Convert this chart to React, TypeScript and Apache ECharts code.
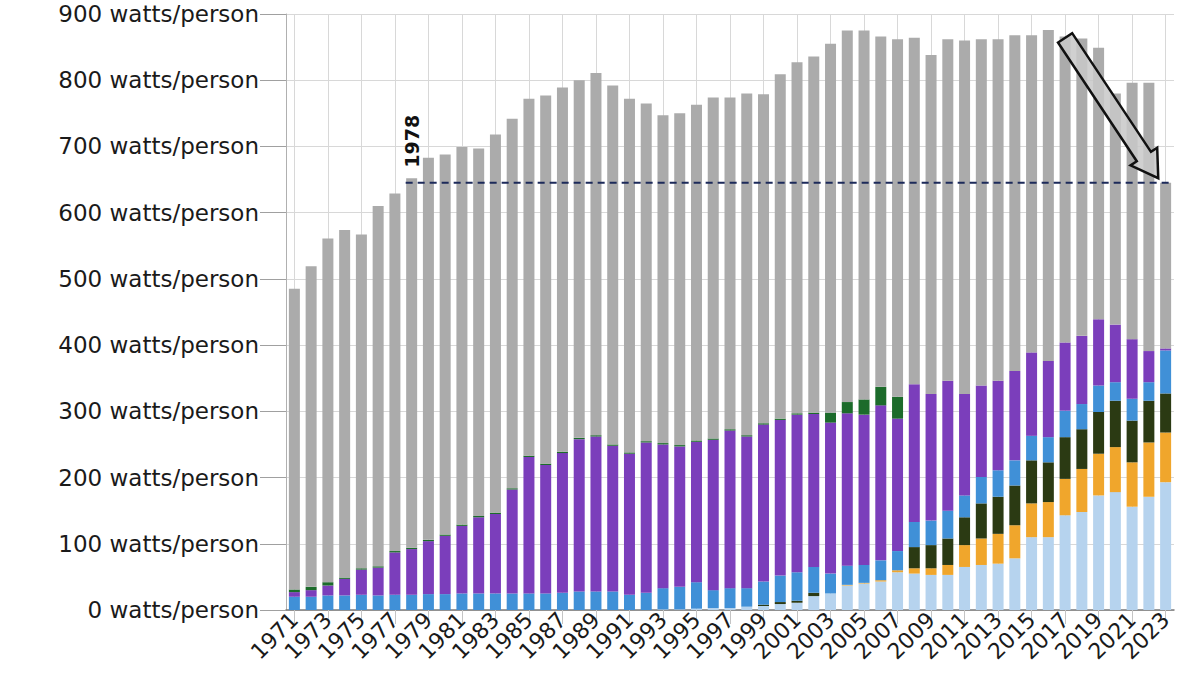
import React, { useEffect, useRef } from "react";
import * as echarts from "echarts";

const years: string[] = [];
for (let y = 1971; y <= 2023; y++) years.push(String(y));

const yTicks = [0, 100, 200, 300, 400, 500, 600, 700, 800, 900];
const unitLabel = "watts/person";

// stacked layers, bottom to top (watts/person)
const wind = [
  0, 0, 0, 0, 0, 0, 0, 0, 0, 0, 0, 0, 0, 0, 0, 0, 0, 0, 0,
  0, 0, 0, 1, 1, 2, 3, 3, 5, 6, 9, 11, 21, 25, 37, 40, 43, 57,
  55, 53, 53, 65, 68, 70, 78, 110, 110, 143, 148, 173, 178, 156, 171, 193,
];
const solar = [
  0, 0, 0, 0, 0, 0, 0, 0, 0, 0, 0, 0, 0, 0, 0, 0, 0, 0, 0,
  0, 0, 0, 0, 0, 0, 0, 0, 0, 0, 0, 0, 0, 0, 1, 1, 2, 3,
  8, 10, 15, 33, 40, 45, 50, 51, 53, 55, 65, 63, 68, 67, 82, 75,
];
const biomass = [
  0, 0, 0, 0, 0, 0, 0, 0, 0, 0, 0, 0, 0, 0, 0, 0, 0, 0, 0,
  0, 0, 0, 0, 0, 0, 0, 0, 0, 2, 3, 3, 5, 0, 0, 0, 0, 0,
  32, 35, 40, 42, 53, 56, 60, 65, 60, 63, 60, 63, 70, 63, 63, 59,
];
const hydro = [
  20, 20, 22, 22, 23, 22, 23, 23, 24, 24, 25, 25, 25, 25, 25, 25, 26, 28, 28,
  28, 23, 26, 32, 34, 40, 27, 30, 28, 35, 40, 43, 39, 30, 29, 27, 30, 29,
  38, 37, 42, 33, 40, 40, 38, 37, 38, 40, 38, 40, 28, 33, 28, 65,
];
const nuclear = [
  7, 10, 15, 25, 38, 42, 64, 69, 80, 88, 102, 115, 120, 157, 206, 194, 211, 230, 234,
  220, 213, 227, 217, 212, 212, 227, 238, 229, 237, 235, 238, 231, 228, 230, 227, 234, 200,
  208, 191, 196, 153, 138, 135, 135, 126, 115, 103, 103, 100, 87, 90, 47, 3,
];
const other = [
  4, 5, 5, 2, 2, 2, 2, 2, 2, 2, 2, 2, 2, 2, 2, 2, 2, 2, 2,
  2, 2, 2, 2, 2, 2, 2, 2, 2, 2, 2, 2, 2, 15, 17, 23, 28, 33,
  0, 0, 0, 0, 0, 0, 0, 0, 0, 0, 0, 0, 0, 0, 0, 0,
];
const fossil = [
  454, 484, 519, 525, 504, 544, 540, 558, 577, 574, 570, 555, 571, 558, 539, 556, 550, 540, 547,
  542, 534, 510, 495, 501, 507, 515, 501, 516, 497, 520, 530, 538, 557, 561, 557, 529, 540,
  523, 512, 516, 534, 523, 516, 507, 479, 500, 462, 449, 410, 349, 387, 405, 250,
];

const refYear = "1978";
const refLevel = 645;
const arrowFrom: [string, number] = ["2017", 864];
const arrowTo: [string, string, number] = ["2022", "2023", 652];

const layers = [
  { name: "Wind", data: wind, color: "#b6d3ee" },
  { name: "Solar", data: solar, color: "#f0a62c" },
  { name: "Biomass", data: biomass, color: "#2b3a13" },
  { name: "Hydro", data: hydro, color: "#4090d7" },
  { name: "Nuclear", data: nuclear, color: "#7b3ebb" },
  { name: "Other", data: other, color: "#1c6b2b" },
  { name: "Fossil", data: fossil, color: "#ababab" },
];

export default function App() {
  const ref = useRef<HTMLDivElement>(null);
  useEffect(() => {
    if (!ref.current) return;
    const chart = echarts.init(ref.current, null, { renderer: "svg" });
    chart.setOption({
      animation: false,
      backgroundColor: "#ffffff",
      grid: { left: 286, right: 26, top: 14, bottom: 65 },
      xAxis: {
        type: "category",
        data: years,
        axisLine: { lineStyle: { color: "#7a7a7a", width: 1.5 } },
        axisTick: { show: true, alignWithLabel: true, interval: 1, length: 14, lineStyle: { color: "#c4c4c4" } },
        axisLabel: {
          interval: 1,
          rotate: 45,
          fontSize: 22,
          fontFamily: "DejaVu Sans",
          color: "#1a1a1a",
          margin: 6,
        },
        splitLine: { show: true, alignWithLabel: true, interval: 1, lineStyle: { color: "#d8d8d8" } },
      },
      yAxis: {
        type: "value",
        min: yTicks[0],
        max: yTicks[yTicks.length - 1],
        interval: 100,
        axisLine: { show: true, lineStyle: { color: "#b0b0b0" } },
        axisTick: { show: true, length: 26, lineStyle: { color: "#a0a0a0" } },
        axisLabel: {
          formatter: (v: number) => `${v} ${unitLabel}`,
          fontSize: 23,
          fontFamily: "DejaVu Sans",
          color: "#1a1a1a",
          margin: 27,
        },
        splitLine: { show: true, lineStyle: { color: "#d8d8d8" } },
      },
      series: layers.map((l) => ({
        name: l.name,
        type: "bar",
        stack: "total",
        barWidth: 11,
        data: l.data,
        itemStyle: { color: l.color },
      })),
    });

    const p0 = chart.convertToPixel({ gridIndex: 0 }, [refYear, refLevel]) as number[];
    const p1 = chart.convertToPixel({ gridIndex: 0 }, [years[years.length - 1], refLevel]) as number[];
    const pLabel = chart.convertToPixel({ gridIndex: 0 }, [refYear, 668]) as number[];
    const a0 = chart.convertToPixel({ gridIndex: 0 }, arrowFrom) as number[];
    const ta = chart.convertToPixel({ gridIndex: 0 }, [arrowTo[0], arrowTo[2]]) as number[];
    const tb = chart.convertToPixel({ gridIndex: 0 }, [arrowTo[1], arrowTo[2]]) as number[];
    const tip = [(ta[0] + tb[0]) / 2 + 1, ta[1]];

    const dx = tip[0] - a0[0];
    const dy = tip[1] - a0[1];
    const len = Math.sqrt(dx * dx + dy * dy);
    const ux = dx / len, uy = dy / len;
    const nx = -uy, ny = ux;
    const sw = 8.5, hw = 16, hl = 26;
    const bx = tip[0] - hl * ux, by = tip[1] - hl * uy;
    const pts = [
      [a0[0] + sw * nx, a0[1] + sw * ny],
      [bx + sw * nx, by + sw * ny],
      [bx + hw * nx, by + hw * ny],
      [tip[0], tip[1]],
      [bx - hw * nx, by - hw * ny],
      [bx - sw * nx, by - sw * ny],
      [a0[0] - sw * nx, a0[1] - sw * ny],
    ];

    chart.setOption({
      graphic: [
        {
          type: "line",
          silent: true,
          z: 100,
          shape: { x1: p0[0] - 6, y1: p0[1], x2: p1[0] + 6, y2: p1[1] },
          style: { stroke: "#1c2a5a", lineWidth: 2, lineDash: [7, 5] },
        },
        {
          type: "text",
          silent: true,
          z: 100,
          x: pLabel[0],
          y: pLabel[1],
          rotation: Math.PI / 2,
          style: {
            text: refYear,
            fill: "#111111",
            font: "bold 19px 'DejaVu Sans'",
            align: "left",
            verticalAlign: "middle",
          },
        },
        {
          type: "polygon",
          silent: true,
          z: 100,
          shape: { points: pts },
          style: { fill: "rgba(200,200,200,0.85)", stroke: "#111111", lineWidth: 2.5, lineJoin: "miter" },
        },
      ],
    });

    return () => chart.dispose();
  }, []);

  return (
    <div
      ref={ref}
      style={{ position: "fixed", left: 0, top: 0, width: 1200, height: 675, background: "#fff" }}
    />
  );
}
